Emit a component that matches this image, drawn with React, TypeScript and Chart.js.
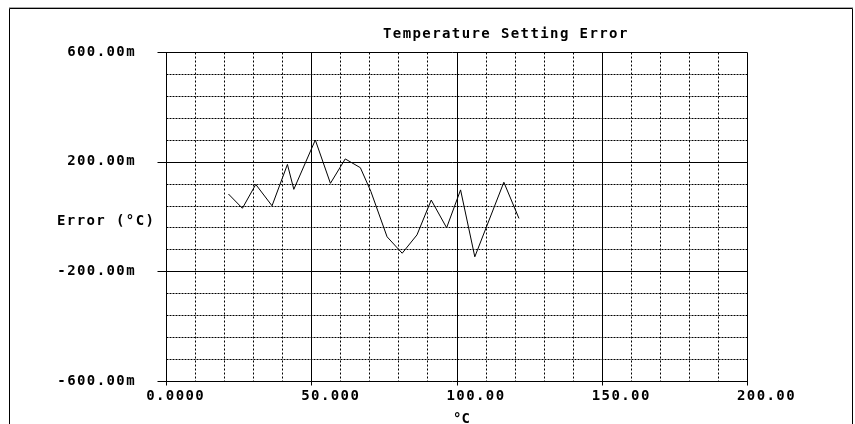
import React, { useEffect, useRef } from "react";
import { Chart, registerables } from "chart.js";

Chart.register(...registerables);

// Temperature (°C) of each measurement
const TEMPERATURES = [21.5, 26.3, 30.9, 36.5, 41.8, 44.0, 51.4, 56.6, 61.7, 66.9, 70.5, 76.1, 81.3, 86.4, 91.3, 96.6, 101.4, 106.3, 116.3, 121.5];
// Setting error in milli-°C
const ERRORS_M = [82, 30, 117, 39, 190, 99, 279, 121, 210, 178, 92, -74, -134, -67, 60, -41, 97, -147, 125, -7];

const X_MIN = 0;
const X_MAX = 200;
const X_MAJOR_TICKS = [0, 50, 100, 150, 200];
const X_TICK_LABELS = ["0.0000 ", "50.000", "100.00", "150.00", "200.00"];
const X_MINOR_STEP = 10;

const Y_MIN = -600;
const Y_MAX = 600;
const Y_MAJOR_TICKS = [-600, -200, 200, 600];
const Y_TICK_LABELS = ["-600.00m", "-200.00m", "200.00m", "600.00m"];
const Y_MINOR_STEP = 80;

const TITLE = "Temperature Setting Error";
const Y_TITLE = "Error (°C)";
const X_TITLE = "°C";

const FONT = "'DejaVu Sans Mono', monospace";
const FONT_SIZE = 14;
const SPACING = "1.4px";

const gridPlugin = {
  id: "scopeGrid",
  beforeDraw(chart: any) {
    chart.ctx.letterSpacing = SPACING;
  },
  beforeDatasetsDraw(chart: any) {
    const { ctx, chartArea: a, scales } = chart;
    const xs = scales.x;
    const ys = scales.y;
    const L = a.left + 0.5;
    const R = a.right + 0.5;
    const T = a.top + 0.5;
    const B = a.bottom + 0.5;
    ctx.save();
    ctx.strokeStyle = "#000";
    ctx.lineWidth = 1;
    // minor horizontal dotted lines
    ctx.setLineDash([2, 1]);
    for (let v = Y_MIN + Y_MINOR_STEP; v < Y_MAX; v += Y_MINOR_STEP) {
      if (Y_MAJOR_TICKS.includes(v)) continue;
      const py = Math.round(ys.getPixelForValue(v)) + 0.5;
      ctx.beginPath();
      ctx.moveTo(L, py);
      ctx.lineTo(R, py);
      ctx.stroke();
    }
    // minor vertical dotted lines
    ctx.setLineDash([2, 2]);
    for (let v = X_MIN + X_MINOR_STEP; v < X_MAX; v += X_MINOR_STEP) {
      if (X_MAJOR_TICKS.includes(v)) continue;
      const px = Math.round(xs.getPixelForValue(v)) + 0.5;
      ctx.beginPath();
      ctx.moveTo(px, T);
      ctx.lineTo(px, B);
      ctx.stroke();
    }
    ctx.setLineDash([]);
    // major horizontal lines with outside ticks
    for (const v of Y_MAJOR_TICKS) {
      const py = Math.round(ys.getPixelForValue(v)) + 0.5;
      ctx.beginPath();
      ctx.moveTo(L - 9, py);
      ctx.lineTo(R, py);
      ctx.stroke();
    }
    // major vertical lines with outside ticks
    for (const v of X_MAJOR_TICKS) {
      const px = Math.round(xs.getPixelForValue(v)) + 0.5;
      ctx.beginPath();
      ctx.moveTo(px, T);
      ctx.lineTo(px, B + 4);
      ctx.stroke();
    }
    ctx.restore();
  },
  afterDraw(chart: any) {
    const { ctx } = chart;
    ctx.save();
    ctx.letterSpacing = SPACING;
    ctx.fillStyle = "#000";
    ctx.font = `bold ${FONT_SIZE}px ${FONT}`;
    ctx.textBaseline = "alphabetic";
    ctx.textAlign = "left";
    ctx.fillText(TITLE, 383, 38);
    ctx.fillText(Y_TITLE, 57, 225);
    ctx.letterSpacing = "0px";
    ctx.fillText(X_TITLE, 453, 423);
    // outer frame
    ctx.strokeStyle = "#aaa";
    ctx.lineWidth = 1;
    ctx.beginPath();
    ctx.moveTo(9, 7.5);
    ctx.lineTo(853, 7.5);
    ctx.stroke();
    ctx.strokeStyle = "#000";
    ctx.beginPath();
    ctx.moveTo(9.5, 430);
    ctx.lineTo(9.5, 8.5);
    ctx.lineTo(852.5, 8.5);
    ctx.lineTo(852.5, 430);
    ctx.stroke();
    ctx.restore();
  },
};

export default function App() {
  const ref = useRef<HTMLCanvasElement | null>(null);

  useEffect(() => {
    if (!ref.current) return;
    const chart = new Chart(ref.current, {
      type: "line",
      data: {
        datasets: [
          {
            data: TEMPERATURES.map((t, i) => ({ x: t, y: ERRORS_M[i] })),
            borderColor: "#000",
            borderWidth: 1,
            pointRadius: 0,
            tension: 0,
            fill: false,
          },
        ],
      },
      options: {
        animation: false,
        responsive: false,
        devicePixelRatio: 1,
        layout: { padding: { left: 0, top: 52, right: 108, bottom: 0 } },
        plugins: {
          legend: { display: false },
          tooltip: { enabled: false },
          title: { display: false },
        },
        scales: {
          x: {
            type: "linear",
            min: X_MIN,
            max: X_MAX,
            grid: { display: false, drawTicks: false },
            border: { display: false },
            afterBuildTicks: (s: any) => {
              s.ticks = X_MAJOR_TICKS.map((v) => ({ value: v }));
            },
            afterFit: (s: any) => {
              s.height = 43;
            },
            ticks: {
              autoSkip: false,
              maxRotation: 0,
              align: "end",
              labelOffset: 49,
              padding: 7,
              color: "#000",
              font: { family: FONT, size: FONT_SIZE, weight: "bold" },
              callback: (_v: any, i: number) => X_TICK_LABELS[i],
            },
          },
          y: {
            type: "linear",
            min: Y_MIN,
            max: Y_MAX,
            grid: { display: false, drawTicks: false },
            border: { display: false },
            afterBuildTicks: (s: any) => {
              s.ticks = Y_MAJOR_TICKS.map((v) => ({ value: v }));
            },
            afterFit: (s: any) => {
              s.width = 166;
            },
            ticks: {
              autoSkip: false,
              padding: 30,
              color: "#000",
              font: { family: FONT, size: FONT_SIZE, weight: "bold" },
              callback: (_v: any, i: number) => Y_TICK_LABELS[i],
            },
          },
        },
      },
      plugins: [gridPlugin],
    } as any);
    return () => chart.destroy();
  }, []);

  return (
    <div style={{ position: "fixed", left: 0, top: 0, width: 855, height: 424, background: "#fff" }}>
      <canvas ref={ref} width={855} height={424} style={{ display: "block" }} />
    </div>
  );
}
